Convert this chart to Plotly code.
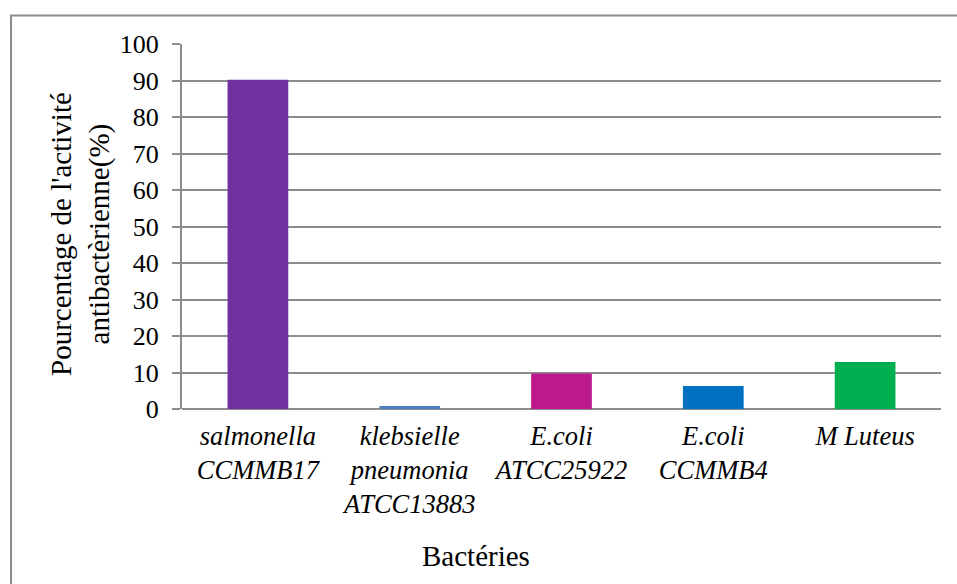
import plotly.graph_objects as go

# Bacterial strains and measured antibacterial activity (%)
categories = [
    "<i>salmonella<br>CCMMB17</i>",
    "<i>klebsielle<br>pneumonia<br>ATCC13883</i>",
    "<i>E.coli<br>ATCC25922</i>",
    "<i>E.coli<br>CCMMB4</i>",
    "<i>M Luteus</i>",
]
activity = [90.2, 0.8, 9.7, 6.3, 12.9]
bar_colors = ["#7030A0", "#4F81BD", "#BC1A8C", "#0070C0", "#00B050"]
y_ticks = [0, 10, 20, 30, 40, 50, 60, 70, 80, 90, 100]

W, H = 957, 584
L, R, T, B = 182, 16, 44, 175
plot_w = W - L - R
plot_h = H - T - B


def px_x(x):
    return (x - L) / plot_w


def px_y(y):
    return (H - B - y) / plot_h


font_family = "Liberation Serif"
grid_col = "#8C8C8C"

fig = go.Figure(
    go.Bar(
        x=list(range(len(categories))),
        y=activity,
        marker=dict(color=bar_colors, line=dict(width=0)),
        width=0.4,
    )
)

fig.update_layout(
    width=W,
    height=H,
    margin=dict(l=L, r=R, t=T, b=B),
    paper_bgcolor="white",
    plot_bgcolor="white",
    showlegend=False,
    font=dict(family=font_family, size=26, color="black"),
    xaxis=dict(
        tickmode="array",
        tickvals=list(range(len(categories))),
        ticktext=categories,
        range=[-0.5, len(categories) - 0.5],
        showgrid=False,
        showline=False,
        zeroline=False,
        ticks="",
        ticklabelstandoff=8,
        tickfont=dict(family=font_family, size=26.5, color="black"),
    ),
    yaxis=dict(
        range=[0, 100],
        tickvals=y_ticks,
        showgrid=True,
        gridcolor=grid_col,
        gridwidth=2,
        showline=True,
        linecolor=grid_col,
        linewidth=2,
        zeroline=True,
        zerolinecolor=grid_col,
        zerolinewidth=2,
        ticks="outside",
        ticklen=8,
        tickwidth=2,
        tickcolor=grid_col,
        ticklabelstandoff=8,
        tickfont=dict(family=font_family, size=26, color="black"),
    ),
    shapes=[
        # chart frame
        dict(
            type="rect",
            xref="paper",
            yref="paper",
            x0=px_x(11),
            x1=px_x(980),
            y0=px_y(600),
            y1=px_y(15.5),
            line=dict(color="#8C8C8C", width=2),
            fillcolor="rgba(0,0,0,0)",
            layer="below",
        )
    ],
    annotations=[
        dict(
            text="Pourcentage de l'activité<br>antibactèrienne(%)",
            textangle=-90,
            xref="paper",
            yref="paper",
            x=px_x(80),
            y=px_y(234),
            xanchor="center",
            yanchor="middle",
            showarrow=False,
            font=dict(family=font_family, size=29, color="black"),
        ),
        dict(
            text="Bactéries",
            xref="paper",
            yref="paper",
            x=px_x(476),
            y=px_y(556),
            xanchor="center",
            yanchor="middle",
            showarrow=False,
            font=dict(family=font_family, size=29, color="black"),
        ),
    ],
)

fig.write_html("out.html")
